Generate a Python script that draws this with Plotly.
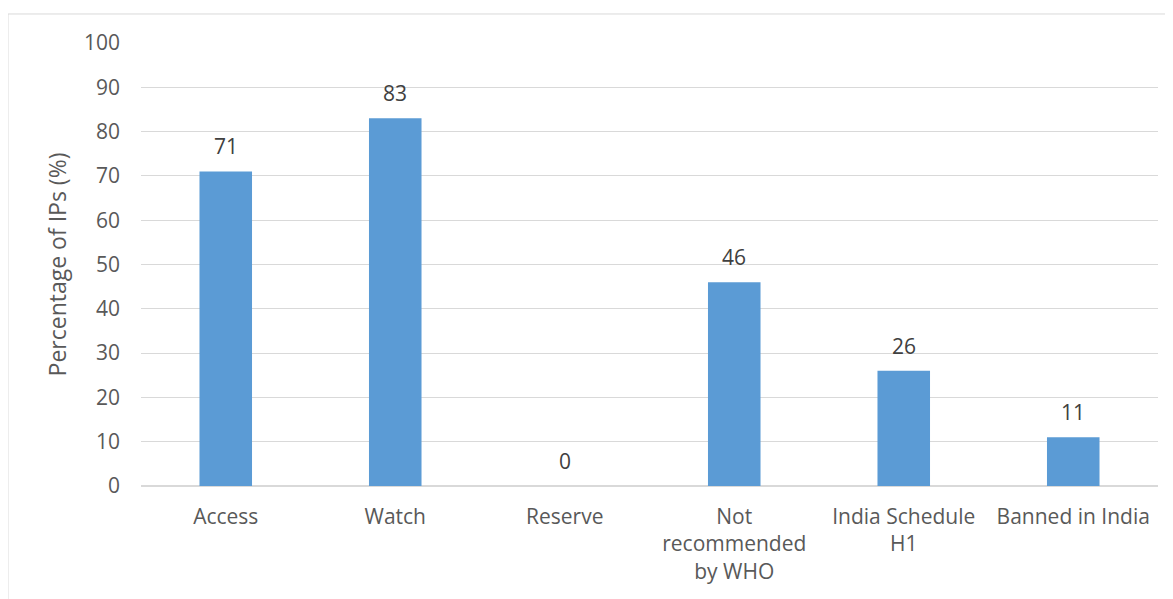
import plotly.graph_objects as go

categories = ["Access", "Watch", "Reserve", "Not<br>recommended<br>by WHO", "India Schedule<br>H1", "Banned in India"]
values = [71, 83, 0, 46, 26, 11]
y_ticks = [0, 10, 20, 30, 40, 50, 60, 70, 80, 90, 100]

FONT = "Open Sans"
GREY = "#595959"
FS = 21

fig = go.Figure(go.Bar(
    x=categories, y=values,
    marker=dict(color="#5B9BD5", line=dict(width=0)),
    width=0.31, cliponaxis=False,
))

for c, v in zip(categories, values):
    fig.add_annotation(x=c, y=v, text=str(v), showarrow=False, yanchor="bottom",
                       yshift=9, font=dict(family=FONT, size=FS, color="#404040"))

W, H = 1165, 591
fig.update_layout(
    width=W, height=H,
    margin=dict(l=133, r=W - 1150, t=35, b=H - 478),
    paper_bgcolor="white", plot_bgcolor="white",
    showlegend=False,
    font=dict(family=FONT, size=FS, color=GREY),
    xaxis=dict(showgrid=False, showline=False, ticks="", ticklabelstandoff=16,
               tickfont=dict(size=FS, color=GREY)),
    yaxis=dict(range=[0, 100], tickvals=y_ticks, showgrid=True, gridcolor="#d9d9d9", gridwidth=1.3,
               zeroline=True, zerolinecolor="#d9d9d9", zerolinewidth=1.5,
               showline=False, ticks="", ticklabelstandoff=20, tickfont=dict(size=FS, color=GREY),
               title=dict(text="Percentage of IPs (%)", font=dict(size=23, color=GREY), standoff=10)),
    shapes=[
        dict(type="line", xref="paper", yref="paper", x0=-0.1308, x1=1.05, y0=1.0655, y1=1.0655,
             line=dict(color="#d9d9d9", width=1)),
        dict(type="line", xref="paper", yref="paper", x0=-0.1308, x1=-0.1308, y0=1.0655, y1=-0.3,
             line=dict(color="#d9d9d9", width=1)),
    ],
)

fig.write_html("out.html")
